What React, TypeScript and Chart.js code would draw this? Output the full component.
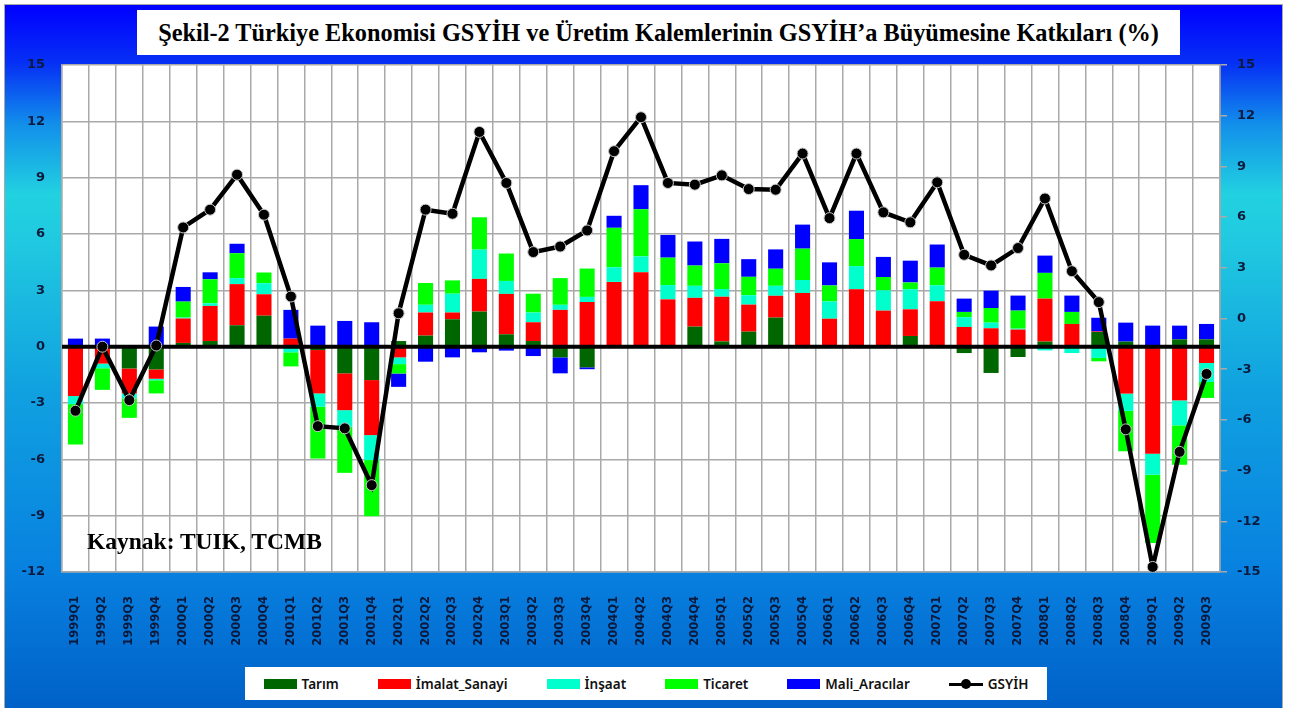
import React, { useEffect, useRef } from "react";
import { Chart, registerables } from "chart.js";

Chart.register(...registerables);

const QUARTERS = [
  "1999Q1","1999Q2","1999Q3","1999Q4",
  "2000Q1","2000Q2","2000Q3","2000Q4",
  "2001Q1","2001Q2","2001Q3","2001Q4",
  "2002Q1","2002Q2","2002Q3","2002Q4",
  "2003Q1","2003Q2","2003Q3","2003Q4",
  "2004Q1","2004Q2","2004Q3","2004Q4",
  "2005Q1","2005Q2","2005Q3","2005Q4",
  "2006Q1","2006Q2","2006Q3","2006Q4",
  "2007Q1","2007Q2","2007Q3","2007Q4",
  "2008Q1","2008Q2","2008Q3","2008Q4",
  "2009Q1","2009Q2","2009Q3",
];

const TARIM = [0, 0, -1.16, -1.21, 0.2, 0.3, 1.14, 1.65, 0, -0.18, -1.42, -1.78, 0.3, 0.59, 1.46, 1.87, 0.66, 0.3, -0.57, -1.1, 0, 0, 0, 1.07, 0.28, 0.8, 1.55, 0, 0, 0, 0, 0.57, 0, -0.34, -1.4, -0.55, 0.27, 0, 0.78, 0.27, 0, 0.39, 0.39];
const IMALAT = [-2.63, -0.9, -1.33, -0.5, 1.3, 1.87, 2.19, 1.14, 0.43, -2.31, -1.96, -2.93, -0.57, 1.23, 0.36, 1.74, 2.15, 1.0, 1.96, 2.38, 3.45, 3.96, 2.52, 1.53, 2.38, 1.44, 1.16, 2.86, 1.49, 3.06, 1.92, 1.42, 2.42, 1.05, 0.98, 0.91, 2.29, 1.21, 0.03, -2.5, -5.7, -2.86, -0.87];
const INSAAT = [-0.43, -0.25, -0.26, -0.08, 0.05, 0.14, 0.32, 0.59, -0.3, -0.71, -0.89, -1.33, -0.36, 0.41, 1.0, 1.56, 0.69, 0.52, 0.27, 0.27, 0.78, 0.85, 0.76, 0.64, 0.41, 0.5, 0.53, 0.69, 0.92, 1.23, 1.08, 1.07, 0.85, 0.52, 0.3, 0.05, -0.2, -0.34, -0.6, -0.92, -1.12, -1.33, -1.01];
const TICARET = [-2.15, -1.15, -1.04, -0.7, 0.85, 1.28, 1.33, 0.57, -0.75, -2.76, -2.45, -2.99, -0.5, 1.16, 0.71, 1.72, 1.46, 1.0, 1.42, 1.51, 2.1, 2.51, 1.46, 1.08, 1.37, 0.98, 0.91, 1.67, 0.85, 1.44, 0.71, 0.36, 0.94, 0.28, 0.78, 0.96, 1.37, 0.64, -0.18, -2.15, -3.64, -2.1, -0.85];
const MALI = [0.43, 0.43, 0, 1.07, 0.78, 0.37, 0.5, 0, 1.53, 1.12, 1.37, 1.3, -0.71, -0.8, -0.57, -0.3, -0.21, -0.5, -0.85, -0.1, 0.64, 1.28, 1.21, 1.28, 1.3, 0.94, 1.03, 1.28, 1.23, 1.51, 1.07, 1.16, 1.23, 0.71, 0.92, 0.8, 0.92, 0.87, 0.73, 1.01, 1.12, 0.73, 0.82];
const GSYIH = [-5.46, -1.67, -4.83, -1.6, 5.39, 6.44, 8.51, 6.14, 1.3, -6.37, -6.5, -9.86, 0.31, 6.44, 6.2, 11.04, 8.02, 3.93, 4.26, 5.21, 9.9, 11.91, 8.02, 7.92, 8.47, 7.66, 7.62, 9.76, 5.94, 9.76, 6.28, 5.69, 8.06, 3.77, 3.14, 4.17, 7.1, 2.8, 0.97, -6.56, -14.7, -7.89, -3.28];

const SERIES_LABELS = ["Tarım", "İmalat_Sanayi", "İnşaat", "Ticaret", "Mali_Aracılar"];
const SERIES_DATA = [TARIM, IMALAT, INSAAT, TICARET, MALI];
const SERIES_COLORS = ["#006600", "#ff0000", "#00ffcc", "#00ff00", "#0000ff"];
const LINE_LABEL = "GSYİH";

const TITLE = "Şekil-2 Türkiye Ekonomisi GSYİH ve Üretim Kalemlerinin GSYİH’a Büyümesine Katkıları (%)";
const SOURCE = "Kaynak: TUIK, TCMB";

const LEFT_MIN = -12, LEFT_MAX = 15, RIGHT_MIN = -15, RIGHT_MAX = 15, STEP = 3;

const GRID = "#a9a9a9";
const TICK_COLOR = "#0b1a3c";

const plotBgAndZero = {
  id: "plotBgAndZero",
  beforeDraw(chart: any) {
    const { ctx, chartArea } = chart;
    ctx.save();
    ctx.fillStyle = "#ffffff";
    ctx.fillRect(chartArea.left, chartArea.top, chartArea.right - chartArea.left, chartArea.bottom - chartArea.top);
    ctx.restore();
  },
  beforeDatasetDraw(chart: any, args: any) {
    if (args.index !== 0) return;
    const { ctx, chartArea } = chart;
    const y = chart.scales.y.getPixelForValue(0);
    ctx.save();
    ctx.strokeStyle = "#000";
    ctx.lineWidth = 4;
    ctx.beginPath();
    ctx.moveTo(chartArea.left, y);
    ctx.lineTo(chartArea.right, y);
    ctx.stroke();
    ctx.restore();
  },
};

export default function App() {
  const ref = useRef<HTMLCanvasElement | null>(null);

  useEffect(() => {
    if (!ref.current) return;
    const chart = new Chart(ref.current, {
      type: "bar",
      data: {
        labels: QUARTERS,
        datasets: [
          {
            type: "line" as const,
            label: LINE_LABEL,
            data: GSYIH,
            yAxisID: "y2",
            borderColor: "#000",
            borderWidth: 4.5,
            pointRadius: 5.5,
            pointBackgroundColor: "#000",
            pointBorderColor: "#c8c8c8",
            pointBorderWidth: 1,
            tension: 0,
          } as any,
          ...SERIES_LABELS.map((label, i) => ({
            type: "bar" as const,
            label,
            data: SERIES_DATA[i],
            backgroundColor: SERIES_COLORS[i],
            yAxisID: "y",
            stack: "s",
            categoryPercentage: 1,
            barPercentage: 0.56,
          })),
        ],
      },
      options: {
        responsive: false,
        animation: false,
        layout: { padding: { top: 65, left: 0, right: 0, bottom: 0 } },
        plugins: {
          legend: { display: false },
          tooltip: { enabled: false },
          title: { display: false },
        },
        scales: {
          x: {
            stacked: true,
            offset: true,
            grid: { color: GRID, lineWidth: 1.5, offset: true, drawTicks: false },
            border: { color: GRID, width: 1.5 },
            ticks: {
              autoSkip: false,
              minRotation: 90,
              maxRotation: 90,
              padding: 24,
              color: TICK_COLOR,
              font: { family: "DejaVu Sans", weight: "bold", size: 11.5 },
            },
            afterFit: (s: any) => { s.height = 136; },
          },
          y: {
            position: "left",
            stacked: true,
            min: LEFT_MIN,
            max: LEFT_MAX,
            grid: { color: GRID, lineWidth: 1.5, drawTicks: false },
            border: { color: GRID, width: 1.5 },
            ticks: {
              stepSize: STEP,
              padding: 17,
              color: TICK_COLOR,
              font: { family: "DejaVu Sans", weight: "bold", size: 13 },
            },
            afterFit: (s: any) => { s.width = 62; },
          },
          y2: {
            position: "right",
            min: RIGHT_MIN,
            max: RIGHT_MAX,
            grid: { drawOnChartArea: false, color: GRID, lineWidth: 1.5, tickLength: 7 },
            border: { color: GRID, width: 1.5 },
            ticks: {
              stepSize: STEP,
              padding: 10,
              color: TICK_COLOR,
              font: { family: "DejaVu Sans", weight: "bold", size: 13 },
            },
            afterFit: (s: any) => { s.width = 73; },
          },
        },
      } as any,
      plugins: [plotBgAndZero],
    });
    return () => chart.destroy();
  }, []);

  const legendText: React.CSSProperties = {
    fontFamily: "'Noto Sans', sans-serif",
    fontWeight: 600,
    fontSize: 13.5,
    color: "#111",
    marginLeft: 5,
    whiteSpace: "nowrap",
  };

  return (
    <div style={{ position: "fixed", left: 0, top: 0, width: 1293, height: 708, overflow: "hidden", background: "#fff" }}>
      <div
        style={{
          position: "absolute",
          left: 4,
          top: 4,
          width: 1277,
          height: 720,
          border: "1px solid #a9a9a9",
          background:
            "linear-gradient(to bottom, #0000ff 0px, #0630f5 58px, #1290ea 120px, #22d2e0 190px, #20c8e0 240px, #10a0e0 390px, #0882e0 560px, #0060c8 708px)",
        }}
      />
      <canvas ref={ref} width={1293} height={708} style={{ position: "absolute", left: 0, top: 0, width: 1293, height: 708 }} />
      <div
        style={{
          position: "absolute",
          left: 137,
          top: 10,
          width: 1043,
          height: 45,
          background: "#fff",
          display: "flex",
          alignItems: "center",
          justifyContent: "center",
          fontFamily: "'Liberation Serif', 'Times New Roman', serif",
          fontWeight: "bold",
          fontSize: 24.3,
          color: "#000",
          whiteSpace: "nowrap",
        }}
      >
        {TITLE}
      </div>
      <div
        style={{
          position: "absolute",
          left: 87,
          top: 528,
          fontFamily: "'Liberation Serif', 'Times New Roman', serif",
          fontWeight: "bold",
          fontSize: 23.5,
          color: "#000",
          whiteSpace: "nowrap",
        }}
      >
        {SOURCE}
      </div>
      <div
        style={{
          position: "absolute",
          left: 245,
          top: 667,
          width: 802,
          height: 33,
          background: "#fff",
          display: "flex",
          alignItems: "center",
          justifyContent: "center",
          gap: 39,
        }}
      >
        {SERIES_LABELS.map((l, i) => (
          <div key={l} style={{ display: "flex", alignItems: "center" }}>
            <span style={{ display: "inline-block", width: 33, height: 10, background: SERIES_COLORS[i] }} />
            <span style={legendText}>{l}</span>
          </div>
        ))}
        <div style={{ display: "flex", alignItems: "center" }}>
          <span style={{ position: "relative", display: "inline-block", width: 34, height: 10 }}>
            <span style={{ position: "absolute", left: 0, top: 4, width: 34, height: 3, background: "#000" }} />
            <span style={{ position: "absolute", left: 12, top: 0, width: 10, height: 10, borderRadius: 5, background: "#000" }} />
          </span>
          <span style={legendText}>{LINE_LABEL}</span>
        </div>
      </div>
    </div>
  );
}
